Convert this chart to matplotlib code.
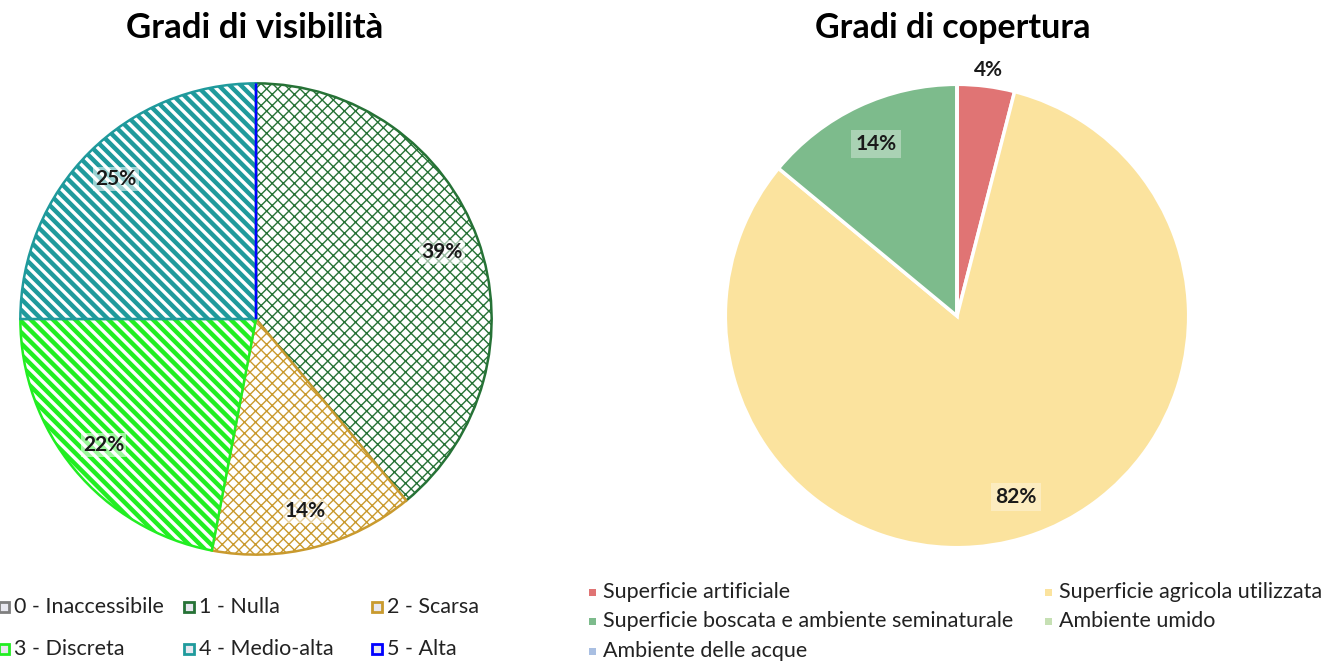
import numpy as np
import matplotlib.pyplot as plt
from matplotlib.patches import Rectangle

plt.rcParams['font.family'] = ['Lato', 'DejaVu Sans']

# Data
vis_labels = ['0 - Inaccessibile', '1 - Nulla', '2 - Scarsa',
              '3 - Discreta', '4 - Medio-alta', '5 - Alta']
vis_values = [0, 39, 14, 22, 25, 0]
vis_colors = ['#7f7f7f', '#267236', '#c99a2e', '#22ee22', '#1f9a9c', '#0000ff']
vis_hatch = ['xxx', 'xxx', 'xxx', '\\\\\\', '\\\\\\', '']

cop_labels = ['Superficie artificiale', 'Superficie agricola utilizzata',
              'Superficie boscata e ambiente seminaturale', 'Ambiente umido',
              'Ambiente delle acque']
cop_values = [4, 82, 14, 0, 0]
cop_colors = ['#e07474', '#fbe39e', '#7dbb8c', '#c6e0b4', '#a9bfe2']

W, H = 1322, 663
fig = plt.figure(figsize=(W / 100, H / 100), dpi=100)


def fx(x):
    return x / W


def fy(y):
    return 1 - y / H


def pie_axes(cx, cy, r):
    ax = fig.add_axes([fx(cx - r), fy(cy + r), 2 * r / W, 2 * r / H])
    return ax


def pct_fmt(p):
    return '' if p < 0.5 else f'{p:.0f}%'


# Left pie: Gradi di visibilita
ax1 = pie_axes(256, 319, 238)
wedges, _, autotexts = ax1.pie(vis_values, startangle=90, counterclock=False,
                               autopct=pct_fmt, pctdistance=0.84,
                               wedgeprops=dict(linewidth=1.8))
for w, c, h in zip(wedges, vis_colors, vis_hatch):
    w.set_facecolor('white')
    w.set_edgecolor(c)
    w.set_hatch(h)
    if h.startswith('\\'):
        w.set_hatch_linewidth(3.2)
    else:
        w.set_hatch_linewidth(1.0)
for t in autotexts:
    t.set_fontsize(15)
    t.set_fontweight('bold')
    t.set_color('#1a1a1a')
    t.set_bbox(dict(facecolor='white', alpha=0.55, edgecolor='none', pad=1.5))
ax1.set_xlim(-1.01, 1.01)
ax1.set_ylim(-1.01, 1.01)
ax1.set_aspect('equal')
ax1.axis('off')

# Right pie: Gradi di copertura
ax2 = pie_axes(957, 316, 234)
wedges2, _, autotexts2 = ax2.pie(cop_values, startangle=90, counterclock=False,
                                 colors=cop_colors, autopct=pct_fmt,
                                 pctdistance=0.82,
                                 wedgeprops=dict(edgecolor='white', linewidth=2.5))
for w, t in zip(wedges2, autotexts2):
    t.set_fontsize(15)
    t.set_fontweight('bold')
    t.set_color('#1a1a1a')
    if t.get_text():
        t.set_bbox(dict(facecolor='white', alpha=0.35, edgecolor='none', pad=3))
    frac = abs(w.theta2 - w.theta1) / 360
    if 0 < frac < 0.06:
        ang = np.deg2rad((w.theta1 + w.theta2) / 2)
        t.set_position((1.07 * np.cos(ang), 1.07 * np.sin(ang)))
        t.set_bbox(None)
ax2.set_xlim(-1.01, 1.01)
ax2.set_ylim(-1.01, 1.01)
ax2.set_aspect('equal')
ax2.axis('off')

# Titles
fig.text(fx(255), fy(28), 'Gradi di visibilità', ha='center', va='center',
         fontsize=25, fontweight='bold')
fig.text(fx(953), fy(28), 'Gradi di copertura', ha='center', va='center',
         fontsize=24.5, fontweight='bold')

# Left legend (row-major: 3 columns)
leg_x = [4, 189, 377]
leg_y = [607, 649]
for i, (lab, c) in enumerate(zip(vis_labels, vis_colors)):
    row, col = divmod(i, 3)
    mx, my = leg_x[col], leg_y[row]
    fig.add_artist(Rectangle((fx(mx - 5), fy(my + 5)), 10 / W, 10 / H,
                             transform=fig.transFigure, facecolor='#e8e8f0',
                             edgecolor=c, linewidth=2))
    fig.text(fx(mx + 10), fy(my), lab, ha='left', va='center', fontsize=15.5,
             color='#222222')

# Right legend (row-major: 2 columns)
rleg_x = [592, 1048]
rleg_y = [592, 621, 651]
for i, (lab, c) in enumerate(zip(cop_labels, cop_colors)):
    row, col = divmod(i, 2)
    mx, my = rleg_x[col], rleg_y[row]
    fig.add_artist(Rectangle((fx(mx - 3.5), fy(my + 3.5)), 7 / W, 7 / H,
                             transform=fig.transFigure, facecolor=c,
                             edgecolor='none'))
    fig.text(fx(mx + 11), fy(my), lab, ha='left', va='center', fontsize=15.5,
             color='#222222')

fig.savefig('out.png', dpi=100)
